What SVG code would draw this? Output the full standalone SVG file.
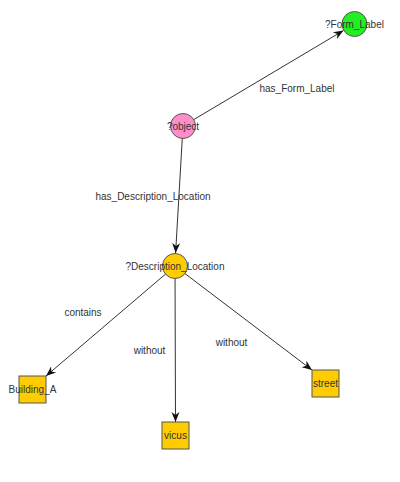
<svg xmlns="http://www.w3.org/2000/svg" width="400" height="482" viewBox="0 0 400 482">
<style>
text{font-family:"Liberation Sans",Arial,sans-serif;font-size:10px;fill:#333;text-anchor:middle}
.e{stroke:#333;stroke-width:1;fill:none;marker-end:url(#a)}
.n{stroke:#555;stroke-width:1}
</style>
<defs>
<marker id="a" viewBox="0 0 10 10" refX="10" refY="5" markerWidth="10" markerHeight="10" markerUnits="userSpaceOnUse" orient="auto">
<path d="M0,1 L10,5 L0,9 L3,5 Z" fill="#111"/>
</marker>
</defs>
<rect width="400" height="482" fill="#fff"/>
<g id="edges">
<line class="e" x1="183" y1="126" x2="343.5" y2="30.5"/>
<line class="e" x1="183" y1="126" x2="175.6" y2="253"/>
<line class="e" x1="175" y1="266" x2="46" y2="376"/>
<line class="e" x1="175" y1="266" x2="175.5" y2="422"/>
<line class="e" x1="175" y1="266" x2="312" y2="370"/>
<text x="297" y="91.5">has_Form_Label</text>
<text x="153" y="199.5">has_Description_Location</text>
<text x="83" y="315.5">contains</text>
<text x="149.5" y="353.5">without</text>
<text x="231.5" y="345.5">without</text>
</g>
<g id="form_label"><circle class="n" cx="354.5" cy="24" r="12.5" fill="#22ee22"/><text x="354.5" y="27.5">?Form_Label</text></g>
<g id="object"><circle class="n" cx="183" cy="126" r="12.5" fill="#ff8fc8"/><text x="183" y="129.5">?object</text></g>
<g id="description_location"><circle class="n" cx="175" cy="266" r="12.5" fill="#ffcc00"/><text x="175" y="269.5">?Description_Location</text></g>
<g id="building_a"><rect class="n" x="19" y="376" width="27" height="27" fill="#ffcc00"/><text x="32.5" y="393">Building_A</text></g>
<g id="vicus"><rect class="n" x="162" y="422" width="27" height="27" fill="#ffcc00"/><text x="175.5" y="439">vicus</text></g>
<g id="street"><rect class="n" x="312" y="370" width="27" height="27" fill="#ffcc00"/><text x="325.5" y="387">street</text></g>
</svg>
